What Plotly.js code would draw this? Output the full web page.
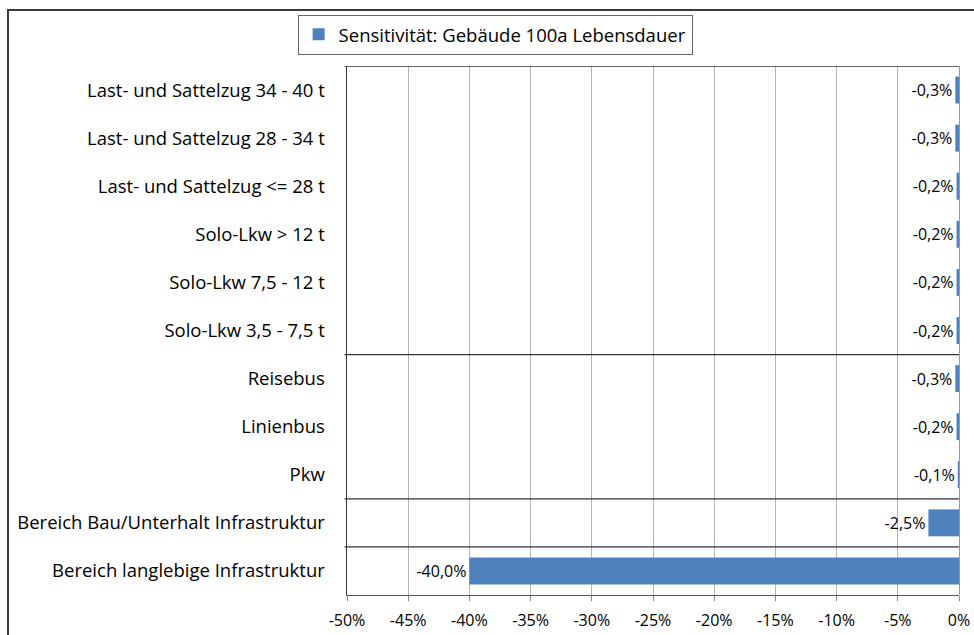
<!DOCTYPE html>
<html>
<head>
<meta charset="utf-8">
<script src="https://cdn.plot.ly/plotly-3.0.1.min.js"></script>
<style>
html,body{margin:0;padding:0;overflow:hidden;background:#fff;}
#chart{width:974px;height:635px;}
#frame{position:absolute;left:7px;top:9px;width:1000px;height:700px;border:2px solid #3a3a3a;pointer-events:none;box-sizing:border-box;}
</style>
</head>
<body>
<div id="chart"></div>
<div id="frame"></div>
<script>
const categories = [
  "Last- und Sattelzug 34 - 40 t",
  "Last- und Sattelzug 28 - 34 t",
  "Last- und Sattelzug <= 28 t",
  "Solo-Lkw > 12 t",
  "Solo-Lkw 7,5 - 12 t",
  "Solo-Lkw 3,5 - 7,5 t",
  "Reisebus",
  "Linienbus",
  "Pkw",
  "Bereich Bau/Unterhalt Infrastruktur",
  "Bereich langlebige Infrastruktur"
];
const values = [-0.3, -0.3, -0.2, -0.2, -0.2, -0.2, -0.3, -0.2, -0.1, -2.5, -40.0];
const seriesName = "Sensitivität: Gebäude 100a Lebensdauer";
const tickValues = [-50, -45, -40, -35, -30, -25, -20, -15, -10, -5, 0];
const tickLabels = ["-50%", "-45%", "-40%", "-35%", "-30%", "-25%", "-20%", "-15%", "-10%", "-5%", "0%"];
// group separators (after these category indexes)
const separatorsAfter = [-1, 5, 8, 9];

const FONT = "'Open Sans', Lato, sans-serif";
const labels = values.map(v => v.toFixed(1).replace(".", ",") + "%");

const trace = {
  type: "bar",
  orientation: "h",
  y: categories,
  x: values,
  name: seriesName,
  marker: {color: "#4F81BD"},
  text: labels,
  textposition: "outside",
  cliponaxis: false,
  textfont: {family: FONT, size: 16, color: "#000"},
  showlegend: true,
  hoverinfo: "x+y"
};

const shapes = separatorsAfter.map(i => ({
  type: "line", xref: "paper", yref: "y",
  x0: -0.004, x1: 1, y0: i + 0.5, y1: i + 0.5,
  line: {color: "#333", width: 1.3}
}));

const layout = {
  width: 974, height: 635,
  margin: {l: 347, r: 15, t: 66, b: 40},
  paper_bgcolor: "#fff", plot_bgcolor: "#fff",
  font: {family: FONT, color: "#000"},
  bargap: 0.44,
  showlegend: true,
  legend: {
    orientation: "h", x: 0.242, xanchor: "center", y: 1.059, yanchor: "middle",
    bordercolor: "#666", borderwidth: 1, bgcolor: "#fff",
    font: {family: FONT, size: 18.5, color: "#000"}
  },
  xaxis: {
    range: [-50, 0],
    tickvals: tickValues, ticktext: tickLabels,
    showgrid: true, gridcolor: "#b3b3b3", gridwidth: 1,
    zeroline: true, zerolinecolor: "#999", zerolinewidth: 1,
    showline: true, linecolor: "#555", linewidth: 1.3,
    ticks: "outside", ticklen: 5, tickcolor: "#888",
    ticklabelstandoff: 5,
    tickfont: {family: FONT, size: 16, color: "#000"},
    fixedrange: true
  },
  yaxis: {
    type: "category", autorange: false, range: [10.5, -0.5],
    showgrid: false, zeroline: false,
    showline: true, linecolor: "#333", linewidth: 1.5,
    ticks: "", ticklabelstandoff: 17,
    tickfont: {family: FONT, size: 18.5, color: "#000"},
    fixedrange: true
  },
  shapes: shapes
};

Plotly.newPlot("chart", [trace], layout, {displayModeBar: false, staticPlot: true});
</script>
</body>
</html>
